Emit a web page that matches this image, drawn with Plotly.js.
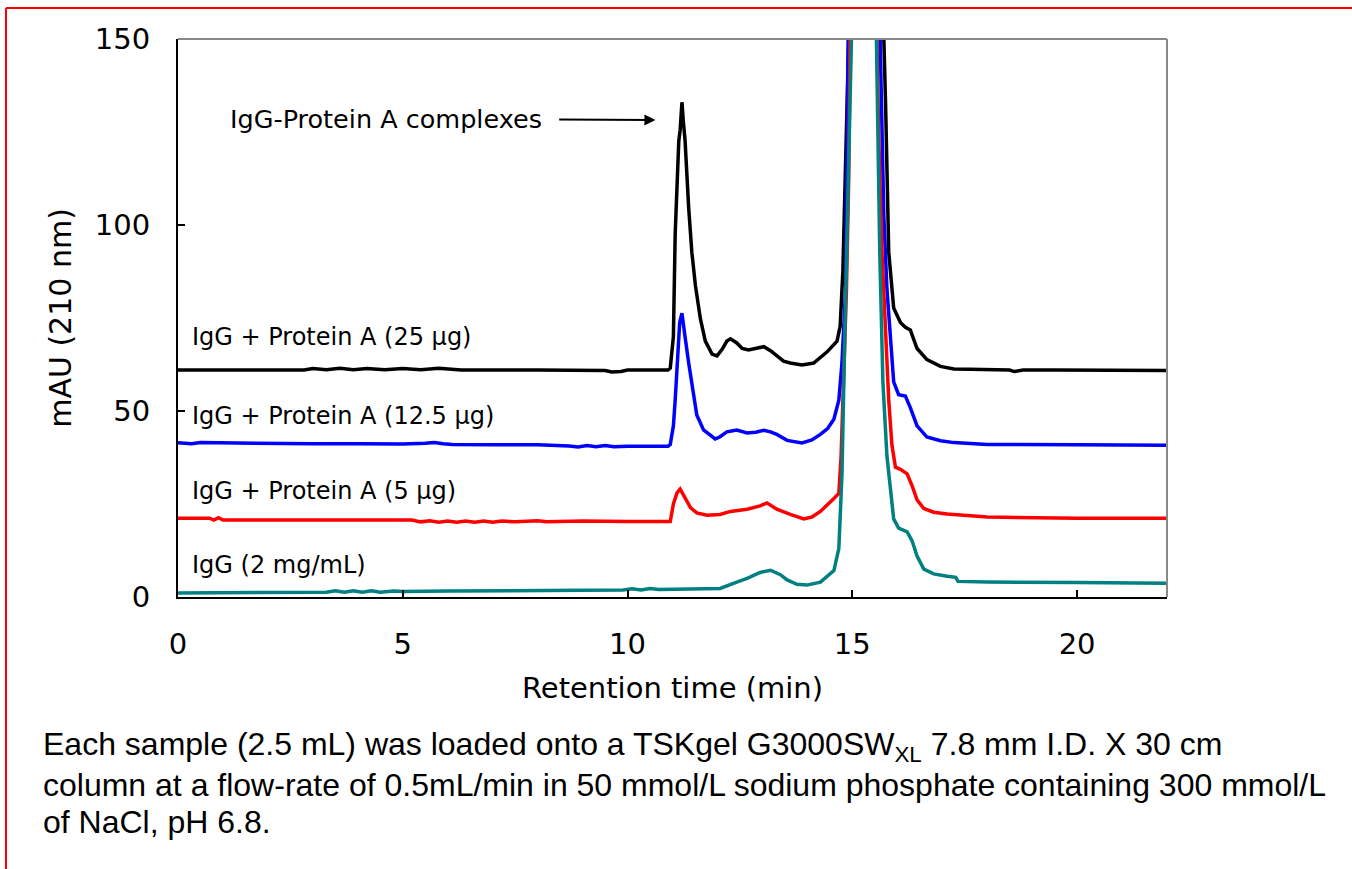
<!DOCTYPE html>
<html>
<head>
<meta charset="utf-8">
<script src="https://cdn.plot.ly/plotly-3.0.1.min.js"></script>
<style>
  html, body { margin: 0; padding: 0; background: #ffffff; }
  #chart { width: 1352px; height: 869px; }
</style>
</head>
<body>
<div id="chart"></div>
<script>
// ---- Data (retention time in min, absorbance in mAU) ----
const time25 = [0, 1.0, 2.8, 3.0, 3.3, 3.6, 3.9, 4.2, 4.6, 5.0, 5.4, 5.8, 6.1, 6.3, 8.0, 9.5, 9.65, 9.85, 10.0, 10.9, 10.95, 11.02, 11.06, 11.10, 11.14, 11.17, 11.21, 11.24, 11.28, 11.36, 11.43, 11.51, 11.62, 11.73, 11.88, 11.99, 12.10, 12.21, 12.29, 12.43, 12.55, 12.69, 12.85, 13.03, 13.18, 13.32, 13.47, 13.62, 13.88, 14.14, 14.44, 14.66, 14.73, 14.79, 14.85, 14.90, 14.94, 15.30, 15.69, 15.74, 15.81, 15.92, 16.07, 16.18, 16.29, 16.44, 16.66, 16.96, 17.26, 17.60, 18.0, 18.5, 18.6, 18.8, 19.5, 20, 21, 22];
const mau25  = [61.0, 61.0, 61.0, 61.4, 61.1, 61.5, 61.1, 61.4, 61.1, 61.4, 61.1, 61.5, 61.1, 61.0, 61.0, 60.9, 60.5, 60.6, 61.0, 61.0, 61.5, 70, 97.7, 110, 122.6, 125.5, 133, 128, 122.6, 104.6, 92.7, 83.7, 74.8, 68.8, 65.3, 64.8, 66.5, 68.8, 69.4, 68.3, 66.8, 66.4, 66.8, 67.3, 66.2, 64.8, 63.4, 62.9, 62.4, 62.9, 65.9, 68.8, 72.8, 87.7, 112.6, 135, 160, 600, 155, 132.5, 92.7, 77.7, 73.8, 72.5, 71.8, 66.8, 63.8, 62.0, 61.3, 61.2, 61.2, 61.0, 60.6, 61.0, 61.0, 61, 61, 60.9];

const time125 = [0, 0.3, 0.5, 1.0, 2, 3, 4, 5, 5.5, 5.7, 5.9, 6.1, 7, 8, 8.7, 8.9, 9.1, 9.3, 9.5, 9.7, 10, 10.9, 10.95, 11.02, 11.06, 11.11, 11.16, 11.21, 11.24, 11.28, 11.36, 11.43, 11.54, 11.69, 11.95, 12.05, 12.21, 12.43, 12.66, 12.85, 13.03, 13.18, 13.32, 13.55, 13.88, 14.10, 14.29, 14.45, 14.59, 14.70, 14.77, 14.85, 14.90, 14.94, 15.30, 15.61, 15.66, 15.70, 15.77, 15.85, 15.92, 16.03, 16.18, 16.29, 16.44, 16.66, 16.96, 17.26, 17.6, 18, 20, 22];
const mau125  = [41.5, 41.2, 41.5, 41.4, 41.4, 41.2, 41.2, 41.1, 41.3, 41.5, 41.2, 41.0, 40.9, 40.9, 40.6, 40.3, 40.7, 40.4, 40.7, 40.4, 40.5, 40.5, 41, 46, 53, 62.9, 73.8, 76.3, 74, 69.9, 62.9, 56.8, 48.9, 44.9, 42.5, 43, 44.4, 44.9, 44.1, 44.3, 44.8, 44.4, 43.7, 42.1, 41.4, 42.2, 43.7, 45.3, 47.8, 52.9, 62.9, 82.8, 122.6, 155, 600, 155, 120, 102.7, 82.8, 67.7, 57.8, 54.4, 54.0, 50.9, 46, 43.0, 42, 41.5, 41.2, 41, 40.9, 40.8];

const time5 = [0, 0.7, 0.8, 0.9, 1.0, 2, 3, 4, 5.2, 5.4, 5.6, 5.8, 6.0, 6.2, 6.4, 6.6, 6.8, 7.0, 7.2, 7.5, 8.0, 8.2, 9, 10, 10.95, 11.02, 11.10, 11.17, 11.28, 11.40, 11.54, 11.77, 12.06, 12.29, 12.66, 12.95, 13.10, 13.32, 13.62, 13.92, 14.10, 14.29, 14.59, 14.70, 14.75, 14.81, 14.87, 14.92, 14.96, 15.30, 15.54, 15.59, 15.66, 15.74, 15.81, 15.88, 15.96, 16.07, 16.22, 16.33, 16.44, 16.59, 16.81, 17.11, 17.55, 18, 20, 22];
const mau5  = [21.2, 21.2, 20.7, 21.3, 20.7, 20.7, 20.7, 20.7, 20.7, 20.2, 20.5, 20.1, 20.4, 20.1, 20.4, 20.1, 20.4, 20.1, 20.4, 20.2, 20.5, 20.2, 20.4, 20.3, 20.3, 25, 28, 29.0, 26.5, 24, 22.6, 22.0, 22.2, 23.0, 23.6, 24.5, 25.3, 23.6, 22.2, 21.0, 21.5, 23, 26.5, 27.8, 37.9, 62.9, 82.8, 112.6, 155, 600, 155, 122.6, 92.7, 72.8, 53, 40.9, 34.9, 34.3, 33.1, 29.9, 26.1, 23.8, 22.8, 22.3, 22.0, 21.5, 21.2, 21.2];

const timeIgG = [0, 2.0, 3.3, 3.5, 3.7, 3.9, 4.1, 4.3, 4.5, 4.8, 5.0, 6, 7, 8, 9, 9.9, 10.1, 10.3, 10.5, 10.7, 11, 12.06, 12.43, 12.66, 12.95, 13.18, 13.40, 13.55, 13.77, 13.99, 14.29, 14.59, 14.70, 14.77, 14.82, 14.88, 14.96, 14.99, 15.30, 15.53, 15.61, 15.68, 15.77, 15.85, 15.92, 16.03, 16.22, 16.33, 16.44, 16.59, 16.81, 17.11, 17.30, 17.35, 18, 20, 22];
const mauIgG  = [1.1, 1.1, 1.3, 1.7, 1.3, 1.7, 1.3, 1.7, 1.3, 1.6, 1.5, 1.6, 1.6, 1.7, 1.8, 1.9, 2.2, 1.9, 2.3, 2.0, 2.1, 2.3, 4.0, 5.0, 6.6, 7.2, 6.0, 4.6, 3.4, 3.2, 4.0, 7.1, 13, 33, 62.9, 92.7, 132.5, 155, 600, 155, 92.7, 57.8, 37.9, 28, 21, 18.5, 17.5, 15.1, 11.0, 7.5, 6.2, 5.6, 5.3, 4.2, 4.0, 3.9, 3.7];

const seriesNames  = ['IgG + Protein A (25 µg)', 'IgG + Protein A (12.5 µg)', 'IgG + Protein A (5 µg)', 'IgG (2 mg/mL)'];
const seriesColors = ['#000000', '#0000ff', '#ff0000', '#008080'];

const xTickVals = [0, 5, 10, 15, 20];
const yTickVals = [0, 50, 100, 150];

const xTitle = 'Retention time (min)';
const yTitle = 'mAU (210 nm)';
const peakNote = 'IgG-Protein A complexes';
const captionLines = [
  'Each sample (2.5 mL) was loaded onto a TSKgel G3000SW<sub>XL</sub> 7.8 mm I.D. X 30 cm',
  'column at a flow-rate of 0.5mL/min in 50 mmol/L sodium phosphate containing 300 mmol/L',
  'of NaCl, pH 6.8.'
];

// ---- Build figure ----
const xs = [time25, time125, time5, timeIgG];
const ys = [mau25, mau125, mau5, mauIgG];

const traces = xs.map((x, i) => ({
  type: 'scatter',
  mode: 'lines',
  x: x,
  y: ys[i],
  name: seriesNames[i],
  line: { color: seriesColors[i], width: 3.5 },
  hoverinfo: 'x+y+name'
}));

const FONT = 'DejaVu Sans, Verdana, sans-serif';

// positions of curve labels (data coords)
const labelPos = [
  { x: 0.27, y: 69.9 },
  { x: 0.27, y: 48.6 },
  { x: 0.27, y: 28.5 },
  { x: 0.27, y: 8.6 }
];

const annotations = seriesNames.map((t, i) => ({
  text: t, x: labelPos[i].x, y: labelPos[i].y, xref: 'x', yref: 'y',
  xanchor: 'left', yanchor: 'middle', showarrow: false,
  font: { family: FONT, size: 24, color: '#000000' }
}));

// peak note with its arrow (text centred at the arrow tail, arrow starts at the padded box edge)
annotations.push({
  text: peakNote, x: 10.62, y: 128.2, xref: 'x', yref: 'y',
  ax: 4.62, ay: 128.6, axref: 'x', ayref: 'y',
  showarrow: true, arrowhead: 2, arrowsize: 1.1, arrowwidth: 2,
  arrowcolor: '#000000', standoff: 0, borderpad: 17,
  font: { family: FONT, size: 25.5, color: '#000000' }
});

const capY = [-0.2688, -0.3369, -0.4032];
captionLines.forEach((t, i) => annotations.push({
  text: t, xref: 'paper', yref: 'paper', x: -0.1385, y: capY[i],
  xanchor: 'left', yanchor: 'middle', showarrow: false, align: 'left',
  font: { family: 'Liberation Sans, Arial, sans-serif', size: 32, color: '#000000' }
}));

const shapes = [
  // grey top and right frame of the plot area
  { type: 'line', xref: 'paper', yref: 'paper', x0: 0, x1: 1, y0: 1, y1: 1,
    line: { color: '#888888', width: 2 } },
  { type: 'line', xref: 'paper', yref: 'paper', x0: 1, x1: 1, y0: 0, y1: 1,
    line: { color: '#888888', width: 2 } },
  // red page border (top and left)
  { type: 'line', xref: 'paper', yref: 'paper', x0: -0.1739, x1: 1.19, y0: 1.0556, y1: 1.0556,
    line: { color: '#ff0000', width: 2 } },
  { type: 'line', xref: 'paper', yref: 'paper', x0: -0.1739, x1: -0.1739, y0: 1.0556, y1: -0.49,
    line: { color: '#ff0000', width: 2 } }
];

const axisCommon = {
  showgrid: false, zeroline: false,
  showline: true, linecolor: '#000000', linewidth: 2,
  ticks: 'inside', ticklen: 7, tickwidth: 1.5, tickcolor: '#000000',
  tickfont: { family: FONT, size: 29, color: '#000000' },
  fixedrange: true
};

const layout = {
  width: 1352, height: 869,
  margin: { l: 178, r: 185, t: 39, b: 272, pad: 0 },
  paper_bgcolor: '#ffffff', plot_bgcolor: '#ffffff',
  showlegend: false,
  xaxis: Object.assign({}, axisCommon, {
    range: [0, 22], tickmode: 'array', tickvals: xTickVals, ticktext: xTickVals.map(String),
    ticklabelstandoff: 20,
    title: { text: xTitle, font: { family: FONT, size: 29, color: '#000000' }, standoff: 18 }
  }),
  yaxis: Object.assign({}, axisCommon, {
    range: [0, 150], tickmode: 'array', tickvals: yTickVals, ticktext: yTickVals.map(String),
    ticklabelstandoff: 20,
    title: { text: yTitle, font: { family: FONT, size: 30, color: '#000000' }, standoff: 14 }
  }),
  annotations: annotations,
  shapes: shapes
};

Plotly.newPlot('chart', traces, layout, { displayModeBar: false, responsive: false });
</script>
</body>
</html>
